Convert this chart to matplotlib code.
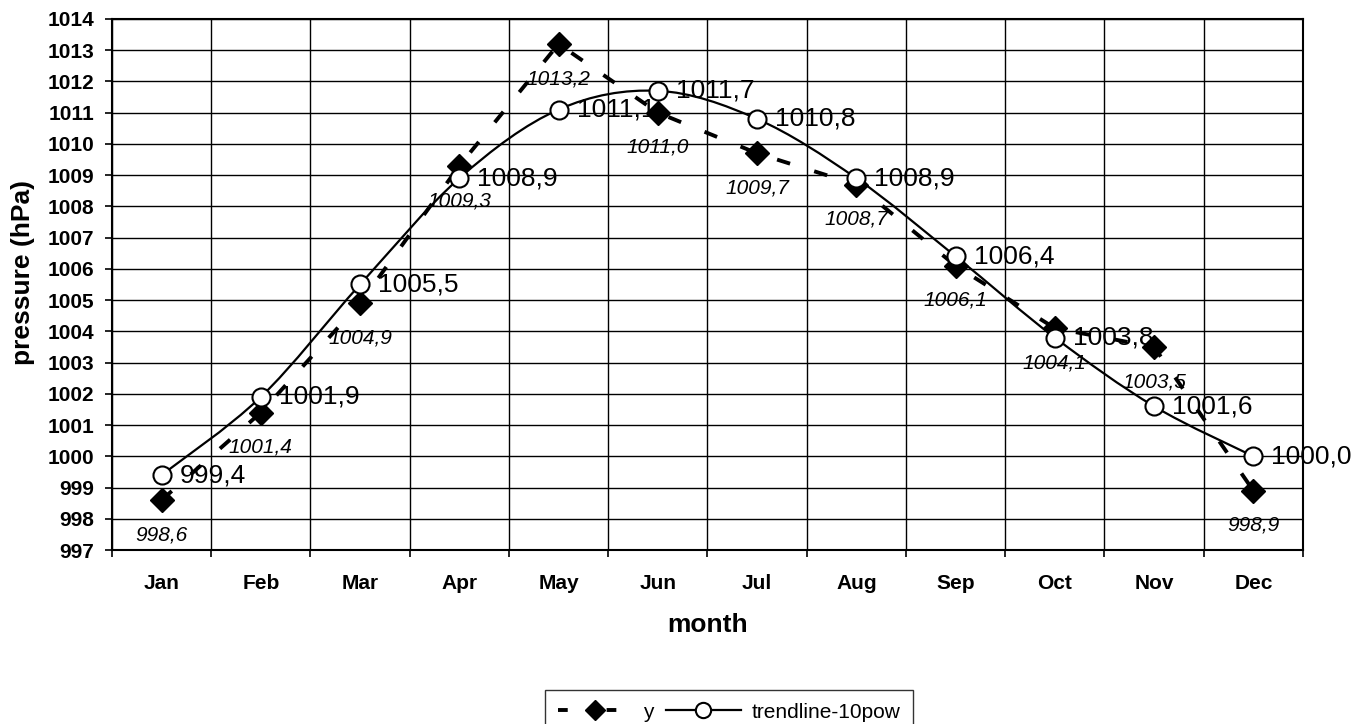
import numpy as np
import matplotlib
matplotlib.use("Agg")
import matplotlib.pyplot as plt
from matplotlib.path import Path
from matplotlib.patches import PathPatch
from matplotlib.lines import Line2D

plt.rcParams['font.family'] = ['Liberation Sans', 'DejaVu Sans']

# data
months = ['Jan', 'Feb', 'Mar', 'Apr', 'May', 'Jun', 'Jul', 'Aug', 'Sep', 'Oct', 'Nov', 'Dec']
y_vals = [998.6, 1001.4, 1004.9, 1009.3, 1013.2, 1011.0, 1009.7, 1008.7, 1006.1, 1004.1, 1003.5, 998.9]
trend_vals = [999.4, 1001.9, 1005.5, 1008.9, 1011.1, 1011.7, 1010.8, 1008.9, 1006.4, 1003.8, 1001.6, 1000.0]
y_ticks = list(range(997, 1015))

x = np.arange(len(months))


def smooth_path(xs, ys):
    # Excel-style smoothed line: cubic bezier segments through the points
    n = len(xs)
    verts = [(xs[0], ys[0])]
    codes = [Path.MOVETO]
    for i in range(n - 1):
        i0, i3 = max(i - 1, 0), min(i + 2, n - 1)
        c1 = (xs[i] + (xs[i + 1] - xs[i0]) / 6, ys[i] + (ys[i + 1] - ys[i0]) / 6)
        c2 = (xs[i + 1] - (xs[i3] - xs[i]) / 6, ys[i + 1] - (ys[i3] - ys[i]) / 6)
        verts += [c1, c2, (xs[i + 1], ys[i + 1])]
        codes += [Path.CURVE4] * 3
    return Path(verts, codes)


fig = plt.figure(figsize=(13.72, 7.24), dpi=100)
ax = fig.add_axes([0.0816, 0.2403, 0.8681, 0.7335])

# measured series: thick dashed line with diamonds
ax.plot(x, y_vals, color='black', lw=2.8, dashes=(3.5, 6.5), zorder=3)
ax.plot(x, y_vals, ls='none', marker='D', ms=12, color='black', zorder=4)

# trendline: smooth curve with open circles
ax.add_patch(PathPatch(smooth_path(x, trend_vals), fill=False, edgecolor='black', lw=1.6, zorder=3))
ax.plot(x, trend_vals, ls='none', marker='o', ms=13, mfc='white', mec='black', mew=1.5, zorder=5)

for xi, v in zip(x, y_vals):
    ax.annotate(f'{v:.1f}'.replace('.', ','), (xi, v), xytext=(0, -25), textcoords='offset points',
                ha='center', va='center', fontsize=15, style='italic', zorder=6)
for xi, v in zip(x, trend_vals):
    ax.annotate(f'{v:.1f}'.replace('.', ','), (xi, v), xytext=(13, 0), textcoords='offset points',
                ha='left', va='center', fontsize=19, zorder=6)

ax.set_xlim(-0.5, len(months) - 0.5)
ax.set_ylim(997, 1014)
ax.set_yticks(y_ticks)
ax.set_yticklabels([str(t) for t in y_ticks], fontsize=15, fontweight='bold')
ax.set_xticks(np.arange(-0.5, len(months), 1.0))
ax.set_xticklabels([])
ax.set_xticks(x, minor=True)
ax.set_xticklabels(months, minor=True, fontsize=15, fontweight='bold')
ax.tick_params(axis='x', which='minor', length=0, pad=17)
ax.tick_params(axis='both', which='major', length=5, width=1.2, direction='out', color='black')
ax.tick_params(axis='y', which='major', pad=8)
ax.grid(True, which='major', color='black', lw=1.0)
ax.set_axisbelow(True)
for s in ax.spines.values():
    s.set_linewidth(1.5)

ax.set_ylabel('pressure (hPa)', fontsize=19, fontweight='bold', va='center')
ax.yaxis.set_label_coords(-0.0747, 0.523)
ax.set_xlabel('month', fontsize=19, fontweight='bold', va='center')
ax.xaxis.set_label_coords(0.5, -0.141)

h1 = Line2D([], [], color='black', lw=2.8, dashes=(2.5, 10), marker='D', ms=10)
h2 = Line2D([], [], color='black', lw=1.6, marker='o', ms=11, mfc='white', mec='black', mew=1.5)
fig.legend([h1, h2], ['y', 'trendline-10pow'], loc='upper left', bbox_to_anchor=(545 / 1372, 1 - 690 / 724),
           ncol=2, fontsize=15, frameon=True, fancybox=False, edgecolor='black', handlelength=3.6,
           columnspacing=0.6, handletextpad=0.5, borderpad=0.6, borderaxespad=0)

fig.savefig('out.png', dpi=100)
